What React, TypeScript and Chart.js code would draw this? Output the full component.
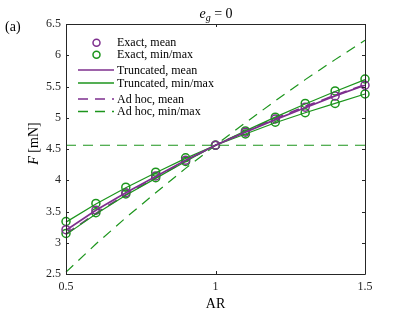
import React, { useEffect, useRef } from "react";
import { Chart, registerables } from "chart.js";

Chart.register(...registerables);

// ---- data ----
const AR = [0.5, 0.6, 0.7, 0.8, 0.9, 1.0, 1.1, 1.2, 1.3, 1.4, 1.5];
const exactMean = [3.21, 3.52, 3.8, 4.07, 4.32, 4.56, 4.77, 4.98, 5.17, 5.35, 5.52];
const exactMax = [3.34, 3.63, 3.89, 4.13, 4.36, 4.56, 4.79, 5.01, 5.23, 5.43, 5.62];
const exactMin = [3.15, 3.48, 3.78, 4.04, 4.3, 4.56, 4.74, 4.93, 5.08, 5.23, 5.38];
const truncMean = [3.2, 3.52, 3.8, 4.06, 4.32, 4.56, 4.77, 4.97, 5.16, 5.35, 5.52];
const truncMax = [3.33, 3.62, 3.88, 4.12, 4.35, 4.56, 4.79, 5.01, 5.22, 5.42, 5.61];
const truncMin = [3.13, 3.46, 3.76, 4.03, 4.3, 4.56, 4.74, 4.92, 5.08, 5.23, 5.38];
const adhocMean = [3.14, 3.47, 3.77, 4.04, 4.31, 4.56, 4.78, 4.99, 5.18, 5.36, 5.53];
const adhocMax = [2.53, 2.98, 3.4, 3.8, 4.19, 4.56, 4.92, 5.27, 5.61, 5.93, 6.24];
const adhocMin = [4.56, 4.56, 4.56, 4.56, 4.56, 4.56, 4.56, 4.56, 4.56, 4.56, 4.56];

const xTicks = [0.5, 1, 1.5];
const yTicks = [2.5, 3, 3.5, 4, 4.5, 5, 5.5, 6, 6.5];

const legendLabels = [
  "Exact, mean",
  "Exact, min/max",
  "Truncated, mean",
  "Truncated, min/max",
  "Ad hoc, mean",
  "Ad hoc, min/max",
];

const PURPLE = "#7E2F8E";
const GREEN = "#1c951c";
const AXIS = "#262626";
const SERIF = "'Liberation Serif', 'DejaVu Serif', serif";

const pts = (ys: number[]) => ys.map((y, i) => ({ x: AR[i], y }));

const decorPlugin = {
  id: "decor",
  afterDraw(chart: any) {
    const ctx = chart.ctx as CanvasRenderingContext2D;
    const { left, right, top, bottom } = chart.chartArea;
    const xs = chart.scales.x;
    const ys = chart.scales.y;
    ctx.save();
    // box
    ctx.strokeStyle = AXIS;
    ctx.lineWidth = 1;
    ctx.setLineDash([]);
    ctx.beginPath();
    ctx.rect(left + 0.5, top + 0.5, right - left, bottom - top);
    ctx.stroke();
    // inward ticks
    const tl = 3;
    ctx.beginPath();
    xTicks.forEach((v) => {
      const px = Math.round(xs.getPixelForValue(v)) + 0.5;
      ctx.moveTo(px, bottom);
      ctx.lineTo(px, bottom - tl);
      ctx.moveTo(px, top);
      ctx.lineTo(px, top + tl);
    });
    yTicks.forEach((v) => {
      const py = Math.round(ys.getPixelForValue(v)) + 0.5;
      ctx.moveTo(left, py);
      ctx.lineTo(left + tl, py);
      ctx.moveTo(right, py);
      ctx.lineTo(right - tl, py);
    });
    ctx.stroke();

    // legend
    const rows = [42.7, 54.8, 70, 83, 99, 111.5];
    const styles = [
      { kind: "circle", color: PURPLE },
      { kind: "circle", color: GREEN },
      { kind: "line", color: PURPLE, dash: [] as number[] },
      { kind: "line", color: GREEN, dash: [] as number[] },
      { kind: "line", color: PURPLE, dash: [10, 7] },
      { kind: "line", color: GREEN, dash: [10, 7] },
    ];
    ctx.font = `12px ${SERIF}`;
    ctx.textAlign = "left";
    ctx.textBaseline = "middle";
    styles.forEach((s: any, i) => {
      const y = rows[i];
      ctx.strokeStyle = s.color;
      if (s.kind === "circle") {
        ctx.setLineDash([]);
        ctx.lineWidth = 1.5;
        ctx.beginPath();
        ctx.arc(96.5, y, 3.5, 0, Math.PI * 2);
        ctx.stroke();
      } else {
        ctx.setLineDash(s.dash);
        ctx.lineWidth = 1.5;
        ctx.beginPath();
        ctx.moveTo(78, y);
        ctx.lineTo(114, y);
        ctx.stroke();
      }
      ctx.setLineDash([]);
      ctx.fillStyle = "#000";
      ctx.fillText(legendLabels[i], 117, y + 0.5);
    });

    // title e_g = 0
    ctx.fillStyle = "#000";
    ctx.textBaseline = "alphabetic";
    const f14 = `14px ${SERIF}`;
    const i14 = `italic 14px ${SERIF}`;
    const i10 = `italic 10px ${SERIF}`;
    ctx.font = i14;
    const we = ctx.measureText("e").width;
    ctx.font = i10;
    const wg = ctx.measureText("g").width;
    ctx.font = f14;
    const wr = ctx.measureText(" = 0").width;
    let tx = 216 - (we + wg + wr) / 2;
    const tb = 18;
    ctx.font = i14;
    ctx.fillText("e", tx, tb);
    tx += we;
    ctx.font = i10;
    ctx.fillText("g", tx, tb + 3);
    tx += wg;
    ctx.font = f14;
    ctx.fillText(" = 0", tx, tb);

    // x label
    ctx.font = `14px ${SERIF}`;
    ctx.textAlign = "center";
    ctx.fillText("AR", 215.5, 307.5);

    // y label
    ctx.save();
    ctx.translate(37.5, 143.5);
    ctx.rotate(-Math.PI / 2);
    ctx.font = i14;
    const wF = ctx.measureText("F").width;
    ctx.font = f14;
    const wRest = ctx.measureText(" [mN]").width;
    let lx = -(wF + wRest) / 2;
    ctx.textAlign = "left";
    ctx.font = i14;
    ctx.fillText("F", lx, 0);
    lx += wF;
    ctx.font = f14;
    ctx.fillText(" [mN]", lx, 0);
    ctx.restore();

    // panel label
    ctx.font = `14px ${SERIF}`;
    ctx.textAlign = "left";
    ctx.fillText("(a)", 5, 31);
    ctx.restore();
  },
};

export default function App() {
  const ref = useRef<HTMLCanvasElement | null>(null);
  useEffect(() => {
    if (!ref.current) return;
    const dash = [10, 7];
    const circ = (ys: number[], label: string, color: string) => ({
      label,
      data: pts(ys),
      showLine: false,
      pointRadius: 4,
      pointBorderWidth: 1.5,
      pointBorderColor: color,
      pointBackgroundColor: "rgba(0,0,0,0)",
      borderColor: color,
      clip: false,
    });
    const line = (ys: number[], label: string, color: string, w: number, d: number[]) => ({
      label,
      data: pts(ys),
      borderColor: color,
      borderWidth: w,
      borderDash: d,
      pointRadius: 0,
      clip: false,
    });
    const chart = new Chart(ref.current, {
      type: "line",
      data: {
        datasets: [
          line(truncMean, "Truncated, mean", PURPLE, 1.7, []),
          line(truncMax, "Truncated, max", GREEN, 1.2, []),
          line(truncMin, "Truncated, min", GREEN, 1.2, []),
          line(adhocMean, "Ad hoc, mean", PURPLE, 1.7, dash),
          line(adhocMax, "Ad hoc, max", GREEN, 1.2, dash),
          line(adhocMin, "Ad hoc, min", GREEN, 1.2, dash),
          circ(exactMean, "Exact, mean", PURPLE),
          circ(exactMax, "Exact, max", GREEN),
          circ(exactMin, "Exact, min", GREEN),
        ] as any,
      },
      options: {
        animation: false,
        responsive: false,
        devicePixelRatio: 1,
        layout: { padding: { left: 0, top: 24, right: 50, bottom: 0 } },
        plugins: { legend: { display: false }, tooltip: { enabled: false }, title: { display: false } },
        elements: { line: { tension: 0 } },
        scales: {
          x: {
            type: "linear",
            min: 0.5,
            max: 1.5,
            grid: { display: false, drawTicks: false },
            border: { display: false },
            afterBuildTicks: (s: any) => { s.ticks = xTicks.map((v) => ({ value: v })); },
            afterFit: (s: any) => { s.height = 46; },
            ticks: { padding: 6, color: AXIS, font: { family: SERIF, size: 12 }, maxRotation: 0, autoSkip: false, callback: (v: any) => String(v) },
          },
          y: {
            type: "linear",
            min: 2.5,
            max: 6.5,
            grid: { display: false, drawTicks: false },
            border: { display: false },
            afterBuildTicks: (s: any) => { s.ticks = yTicks.map((v) => ({ value: v })); },
            afterFit: (s: any) => { s.width = 66; },
            ticks: { padding: 5, color: AXIS, font: { family: SERIF, size: 12 }, autoSkip: false, callback: (v: any) => String(v) },
          },
        },
      } as any,
      plugins: [decorPlugin],
    });
    return () => chart.destroy();
  }, []);
  return (
    <div style={{ position: "absolute", left: 0, top: 0, width: 415, height: 320, background: "#fff" }}>
      <canvas ref={ref} width={415} height={320} style={{ display: "block", width: 415, height: 320 }} />
    </div>
  );
}
